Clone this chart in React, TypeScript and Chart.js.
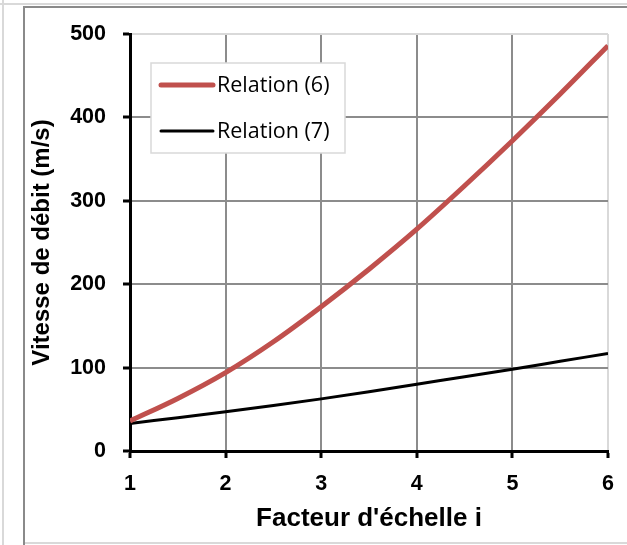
import React, { useEffect, useRef } from "react";
import { Chart, registerables } from "chart.js";

Chart.register(...registerables);

const xValues = [1, 1.5, 2, 2.5, 3, 3.5, 4, 4.5, 5, 5.5, 6];
const relation6 = [36, 63, 94, 131, 173, 218, 266, 318, 372, 428, 486];
const relation7 = [33, 40, 47, 54.5, 62.5, 71, 80, 89, 98, 107.5, 117];
const seriesLabels = ["Relation (6)", "Relation (7)"];
const seriesColors = ["#c0504d", "#000000"];
const xTitle = "Facteur d'échelle i";
const yTitle = "Vitesse de débit (m/s)";

const FONT = '"Liberation Sans", Arial, sans-serif';

const framePlugin = {
  id: "frame",
  beforeDraw(chart: any) {
    const { ctx, width, height } = chart;
    ctx.save();
    ctx.fillStyle = "#ffffff";
    ctx.fillRect(0, 0, width, height);
    ctx.strokeStyle = "#d9d9d9";
    ctx.lineWidth = 2;
    ctx.beginPath();
    ctx.moveTo(3, 0);
    ctx.lineTo(3, height);
    ctx.moveTo(0, 4);
    ctx.lineTo(width, 4);
    ctx.moveTo(24, 543);
    ctx.lineTo(width, 543);
    ctx.stroke();
    ctx.strokeStyle = "#8a8a8a";
    ctx.lineWidth = 2;
    ctx.beginPath();
    ctx.moveTo(24, height);
    ctx.lineTo(24, 7);
    ctx.lineTo(width, 7);
    ctx.stroke();
    ctx.restore();
  },
};

const legendPlugin = {
  id: "customLegend",
  afterDatasetsDraw(chart: any) {
    const { ctx, chartArea } = chart;
    const x0 = chartArea.left + 21;
    const y0 = chartArea.top + 29;
    const w = 194;
    const h = 90;
    ctx.save();
    ctx.fillStyle = "#ffffff";
    ctx.fillRect(x0, y0, w, h);
    ctx.strokeStyle = "#d9d9d9";
    ctx.lineWidth = 1.5;
    ctx.strokeRect(x0, y0, w, h);
    chart.data.datasets.forEach((ds: any, i: number) => {
      const cy = y0 + 22 + i * 46;
      ctx.strokeStyle = ds.borderColor;
      ctx.lineWidth = ds.borderWidth;
      ctx.lineCap = "round";
      ctx.beginPath();
      ctx.moveTo(x0 + 10, cy);
      ctx.lineTo(x0 + 62, cy);
      ctx.stroke();
      ctx.fillStyle = "#000000";
      ctx.font = '21.5px "Open Sans", "Noto Sans", sans-serif';
      ctx.textBaseline = "middle";
      ctx.textAlign = "left";
      ctx.fillText(ds.label, x0 + 66, cy + 1);
    });
    ctx.restore();
  },
};

export default function App() {
  const ref = useRef<HTMLCanvasElement | null>(null);
  useEffect(() => {
    if (!ref.current) return;
    const chart = new Chart(ref.current, {
      type: "line",
      data: {
        datasets: [
          {
            label: seriesLabels[0],
            data: xValues.map((x, i) => ({ x, y: relation6[i] })),
            borderColor: seriesColors[0],
            backgroundColor: seriesColors[0],
            borderWidth: 5,
            pointRadius: 0,
            cubicInterpolationMode: "monotone",
          },
          {
            label: seriesLabels[1],
            data: xValues.map((x, i) => ({ x, y: relation7[i] })),
            borderColor: seriesColors[1],
            backgroundColor: seriesColors[1],
            borderWidth: 3,
            pointRadius: 0,
            cubicInterpolationMode: "monotone",
          },
        ],
      },
      options: {
        responsive: false,
        animation: false,
        layout: { padding: { left: 24, right: 19, top: 34, bottom: 7 } },
        plugins: { legend: { display: false }, tooltip: { enabled: false } },
        scales: {
          x: {
            type: "linear",
            min: 1,
            max: 6,
            afterFit: (s: any) => {
              s.height = 87;
            },
            ticks: {
              stepSize: 1,
              padding: 13,
              color: "#000",
              font: { family: FONT, size: 21.5, weight: "bold" },
            },
            grid: {
              color: (c: any) => (c.index === 5 ? "#d9d9d9" : "#8c8c8c"),
              lineWidth: 2,
              tickColor: "#000",
              tickWidth: 3,
              tickLength: 7,
            },
            border: { color: "#000", width: 3 },
            title: {
              display: true,
              text: xTitle,
              color: "#000",
              font: { family: FONT, size: 26, weight: "bold" },
            },
          },
          y: {
            min: 0,
            max: 500,
            afterFit: (s: any) => {
              s.width = 106;
            },
            ticks: {
              stepSize: 100,
              padding: 17,
              color: "#000",
              font: { family: FONT, size: 21.5, weight: "bold" },
            },
            grid: {
              color: (c: any) => (c.index === 5 ? "#d9d9d9" : "#8c8c8c"),
              lineWidth: 2,
              tickColor: "#000",
              tickWidth: 3,
              tickLength: 7,
            },
            border: { color: "#000", width: 3 },
            title: {
              display: true,
              text: yTitle,
              color: "#000",
              font: { family: FONT, size: 24, weight: "bold" },
            },
          },
        },
      },
      plugins: [framePlugin, legendPlugin],
    } as any);
    return () => chart.destroy();
  }, []);
  return (
    <div style={{ position: "fixed", left: 0, top: 0, width: 627, height: 545 }}>
      <canvas ref={ref} width={627} height={545} style={{ display: "block" }} />
    </div>
  );
}
